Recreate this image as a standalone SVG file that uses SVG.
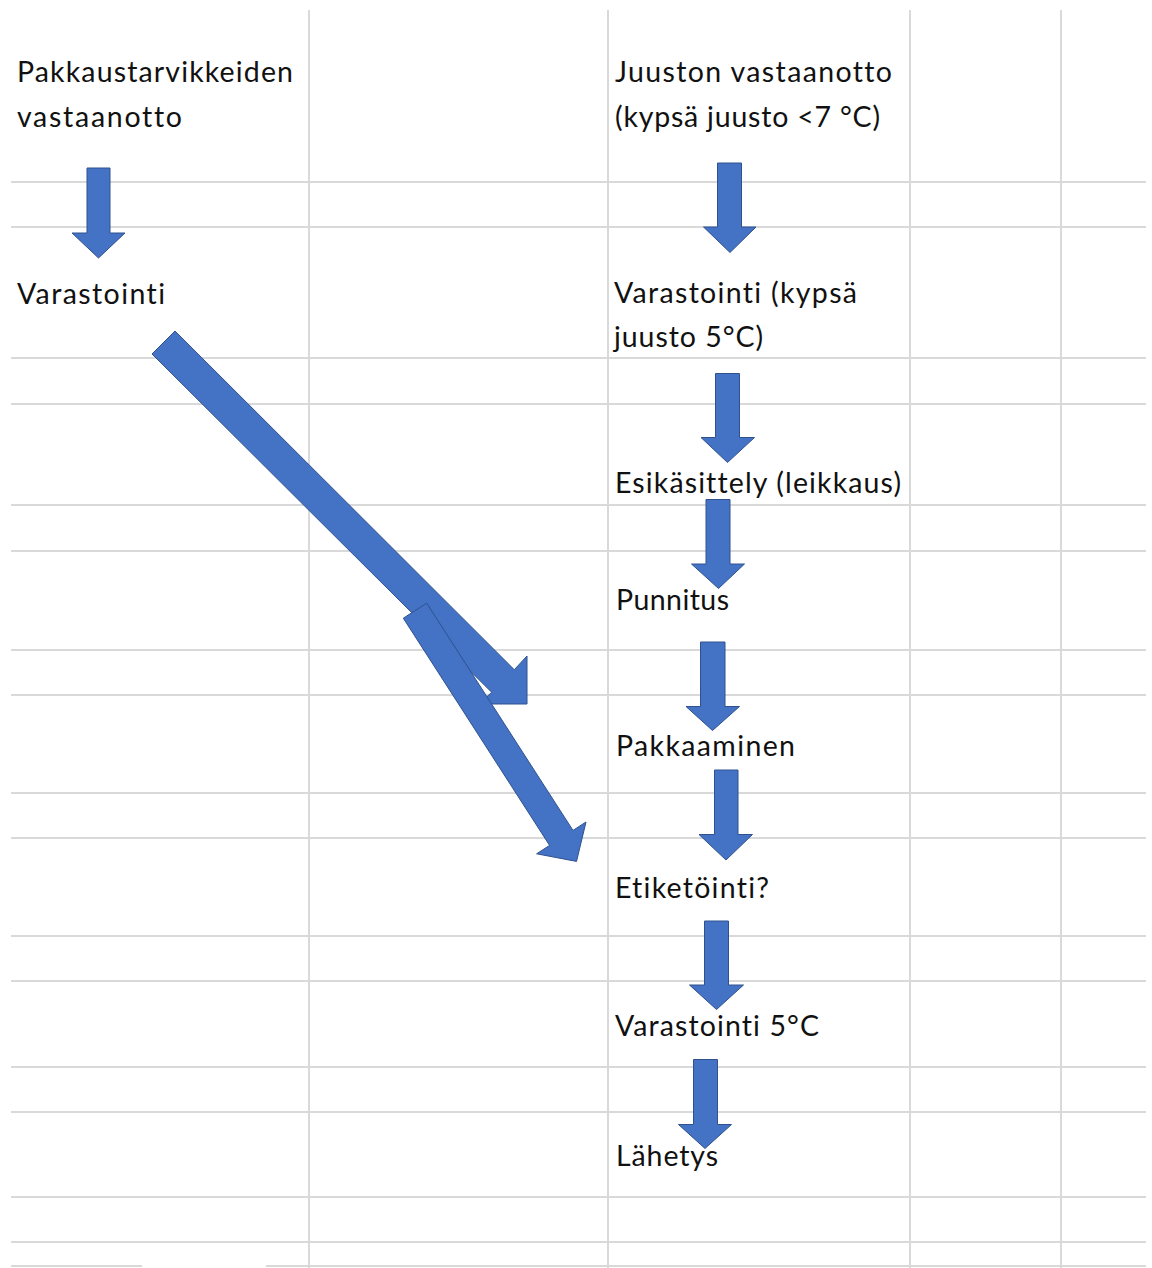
<svg xmlns="http://www.w3.org/2000/svg" width="1152" height="1268" viewBox="0 0 1152 1268">
  <style>
    .grid line { stroke: #d9d9d9; stroke-width: 2; }
    .arr { fill: #4472c4; stroke: #2f528f; stroke-width: 1; stroke-linejoin: miter; }
    .lbl { font-family: Lato, "Open Sans", "Liberation Sans", sans-serif; font-size: 28.5px; fill: #111; font-variant-ligatures: none; font-feature-settings: "liga" 0, "clig" 0; }
  </style>
  <rect width="1152" height="1268" fill="#ffffff"/>
  <g id="grid" class="grid">
    <line x1="309" y1="10" x2="309" y2="1268"/>
    <line x1="608" y1="10" x2="608" y2="1268"/>
    <line x1="910" y1="10" x2="910" y2="1268"/>
    <line x1="1061" y1="10" x2="1061" y2="1268"/>
    <line x1="11" y1="182" x2="1146" y2="182"/>
    <line x1="11" y1="227" x2="1146" y2="227"/>
    <line x1="11" y1="358" x2="1146" y2="358"/>
    <line x1="11" y1="404" x2="1146" y2="404"/>
    <line x1="11" y1="505" x2="1146" y2="505"/>
    <line x1="11" y1="551" x2="1146" y2="551"/>
    <line x1="11" y1="650" x2="1146" y2="650"/>
    <line x1="11" y1="695" x2="1146" y2="695"/>
    <line x1="11" y1="793" x2="1146" y2="793"/>
    <line x1="11" y1="838" x2="1146" y2="838"/>
    <line x1="11" y1="936" x2="1146" y2="936"/>
    <line x1="11" y1="981" x2="1146" y2="981"/>
    <line x1="11" y1="1067" x2="1146" y2="1067"/>
    <line x1="11" y1="1112" x2="1146" y2="1112"/>
    <line x1="11" y1="1197" x2="1146" y2="1197"/>
    <line x1="11" y1="1242" x2="1146" y2="1242"/>
    <line x1="11" y1="1266" x2="142" y2="1266"/>
    <line x1="266" y1="1266" x2="1146" y2="1266"/>
  </g>

  <g id="n-pakkaustarvikkeiden">
    <text class="lbl" x="17" y="82" textLength="276">Pakkaustarvikkeiden</text>
    <text class="lbl" x="17" y="127" textLength="165">vastaanotto</text>
  </g>
  <g id="n-varastointi-left">
    <text class="lbl" x="17" y="304" textLength="148">Varastointi</text>
  </g>
  <g id="n-juuston-vastaanotto">
    <text class="lbl" x="615" y="82" textLength="277">Juuston vastaanotto</text>
    <text class="lbl" x="615" y="127" textLength="265">(kypsä juusto &lt;7 °C)</text>
  </g>
  <g id="n-varastointi-kypsa">
    <text class="lbl" x="614" y="303" textLength="243">Varastointi (kypsä</text>
    <text class="lbl" x="614" y="347" textLength="149">juusto 5°C)</text>
  </g>
  <g id="n-esikasittely">
    <text class="lbl" x="615" y="493" textLength="286">Esikäsittely (leikkaus)</text>
  </g>
  <g id="n-punnitus">
    <text class="lbl" x="616" y="610" textLength="113">Punnitus</text>
  </g>
  <g id="n-pakkaaminen">
    <text class="lbl" x="616" y="756" textLength="179">Pakkaaminen</text>
  </g>
  <g id="n-etiketointi">
    <text class="lbl" x="615" y="898" textLength="154">Etiketöinti?</text>
  </g>
  <g id="n-varastointi-5">
    <text class="lbl" x="615" y="1036" textLength="204">Varastointi 5°C</text>
  </g>
  <g id="n-lahetys">
    <text class="lbl" x="616" y="1166" textLength="102">Lähetys</text>
  </g>

  <g id="connectors">
    <polygon class="arr" points="87,168 110,168 110,233 125,233 98.5,258 72,233 87,233"/>
    <polygon class="arr" points="717.5,163 741.5,163 741.5,227 756,227 730,252.5 703.5,227 717.5,227"/>
    <polygon class="arr" points="715.5,373.5 739.5,373.5 739.5,437.5 754.5,437.5 727.5,462.5 701,437.5 715.5,437.5"/>
    <polygon class="arr" points="706,499.5 730,499.5 730,564 744.5,564 718.5,588.5 691.5,564 706,564"/>
    <polygon class="arr" points="700.5,642 725,642 725,706.5 739.5,706.5 712.5,730.5 686,706.5 700.5,706.5"/>
    <polygon class="arr" points="714.5,770 738,770 738,834.5 752.5,834.5 726,860 699,834.5 714.5,834.5"/>
    <polygon class="arr" points="704.5,921 728.5,921 728.5,985 743.5,985 716.5,1009.5 689.5,985 704.5,985"/>
    <polygon class="arr" points="693.5,1059.5 717.5,1059.5 717.5,1124.5 731.5,1124.5 705,1148.5 678.5,1124.5 693.5,1124.5"/>
    <polygon class="arr" points="175,331 514.3,669.7 527,656 527,704 479,704 491.7,692.3 152,354"/>
    <polygon class="arr" points="426.7,603.2 573,830.4 586,822 576.5,861.4 536.6,853.8 549.6,845.4 403.3,618.2"/>
  </g>
</svg>
